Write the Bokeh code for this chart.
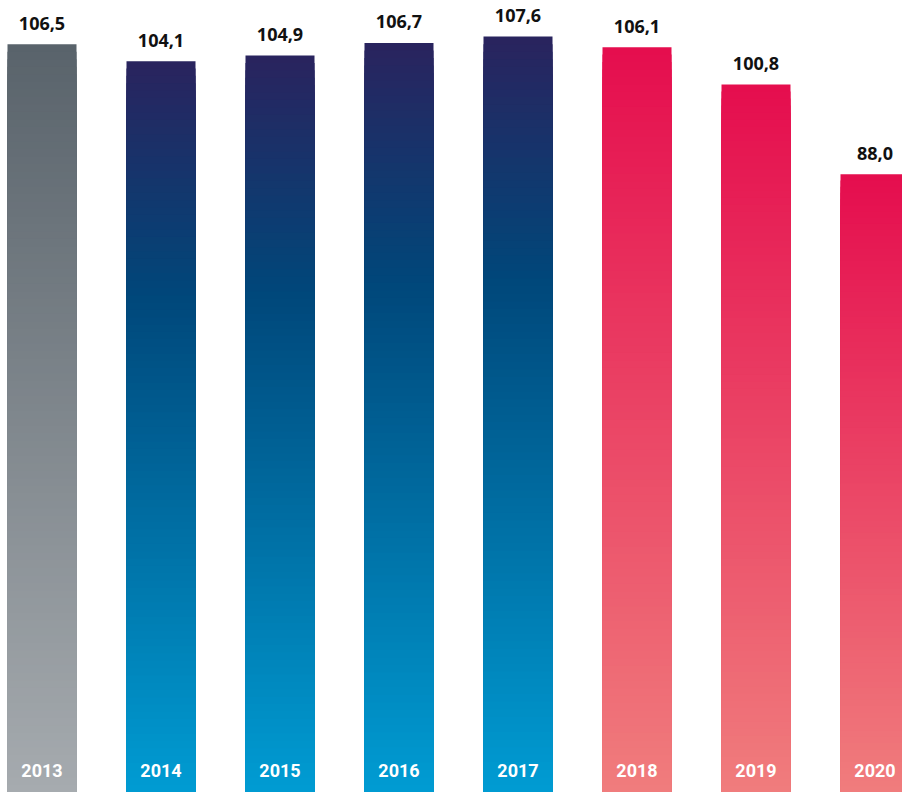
from bokeh.plotting import figure
from bokeh.models import Range1d, ColumnDataSource
from bokeh.core.properties import value
from bokeh.embed import file_html
from bokeh.resources import INLINE

years = ["2013", "2014", "2015", "2016", "2017", "2018", "2019", "2020"]
values = [106.5, 104.1, 104.9, 106.7, 107.6, 106.1, 100.8, 88.0]
labels = ["106,5", "104,1", "104,9", "106,7", "107,6", "106,1", "100,8", "88,0"]
groups = ["gray", "blue", "blue", "blue", "blue", "red", "red", "red"]

# gradient stops (fraction from top, colour)
stops = {
    "gray": [(0.0, (0x59, 0x63, 0x6b)), (1.0, (0xa6, 0xab, 0xaf))],
    "blue": [(0.0, (0x2a, 0x23, 0x5e)), (0.32, (0x00, 0x47, 0x7a)), (1.0, (0x00, 0x9c, 0xd3))],
    "red": [(0.0, (0xe5, 0x0d, 0x4e)), (1.0, (0xf0, 0x7d, 0x7d))],
}

def colour_at(group, t):
    s = stops[group]
    for (t0, c0), (t1, c1) in zip(s[:-1], s[1:]):
        if t0 <= t <= t1:
            f = (t - t0) / (t1 - t0) if t1 > t0 else 0
            c = [round(a + (b - a) * f) for a, b in zip(c0, c1)]
            return "#%02x%02x%02x" % tuple(c)
    c = s[-1][1]
    return "#%02x%02x%02x" % c

W, H = 902, 792
x0 = -41.5 / 119
p = figure(width=W, height=H, output_backend="svg", toolbar_location=None,
           x_range=Range1d(x0, x0 + W / 119), y_range=Range1d(0, H / 7.025),
           min_border=0, min_border_left=0, min_border_right=0,
           min_border_top=0, min_border_bottom=0)
p.axis.visible = False
p.grid.visible = False
p.outline_line_color = None
p.background_fill_color = "white"
p.border_fill_color = "white"

# each gradient band is drawn as a bar from 0 up to its own top,
# painted from the tallest (top colour) down to the shortest (bottom colour)
N = 100
xs, tops, cols = [], [], []
for k in range(N, 0, -1):
    for i, (v, g) in enumerate(zip(values, groups)):
        xs.append(i)
        tops.append(v * k / N)
        cols.append(colour_at(g, 1 - (k - 0.5) / N))

src = ColumnDataSource(dict(x=xs, top=tops, color=cols))
p.vbar(x="x", width=69 / 119, bottom=0, top="top", fill_color="color",
       line_color=None, source=src)

idx = list(range(len(years)))
lab_src = ColumnDataSource(dict(x=idx, y=values, text=labels))
p.text(x="x", y="y", text="text", source=lab_src, text_align="center",
       text_baseline="alphabetic", y_offset=-21, text_color="#111111",
       text_font=value("Open Sans"), text_font_style="bold", text_font_size="18px")

yr_src = ColumnDataSource(dict(x=idx, y=[0] * len(years), text=years))
p.text(x="x", y="y", text="text", source=yr_src, text_align="center",
       text_baseline="alphabetic", y_offset=-22, text_color="white",
       text_font=value("Roboto"), text_font_style="bold", text_font_size="18px")

open("out.html", "w").write(file_html(p, INLINE))
